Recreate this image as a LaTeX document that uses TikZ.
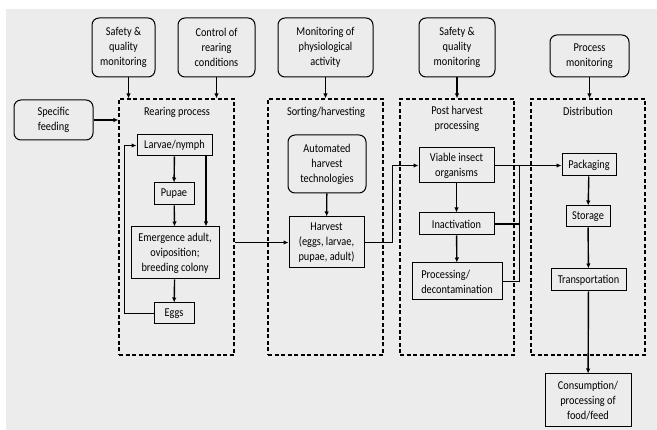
\documentclass[tikz,border=0pt]{standalone}
\usepackage{fontspec}
\setmainfont{Carlito}[FakeStretch=0.86]
\usetikzlibrary{arrows.meta,positioning}
\definecolor{paper}{RGB}{236,236,236}

\begin{document}
\begin{tikzpicture}[x=1pt,y=-1pt,
    font=\fontsize{12}{15}\selectfont,
    rbox/.style={draw,line width=1pt,rounded corners=7pt,align=center,inner sep=0pt},
    pbox/.style={draw,line width=1pt,align=center,inner sep=0pt,fill=paper},
    group/.style={draw,line width=1.2pt,dash pattern=on 4pt off 2.5pt,inner sep=0pt},
    arr/.style={line width=1.4pt,-{Latex[length=5pt,width=4.5pt]}},
    line/.style={line width=1.4pt}]

    \useasboundingbox (0,0) rectangle (657,430);
    \fill[paper] (6,9) rectangle (657,430);

    % monitoring boxes on top
    \node[rbox,minimum width=63,minimum height=59] (safeA) at (123.5,47.5) {Safety \&\\quality\\monitoring};
    \node[rbox,minimum width=77,minimum height=59] (ctrl) at (216.5,47.5) {Control of\\rearing\\conditions};
    \node[rbox,minimum width=95,minimum height=59] (monit) at (325.5,47.5) {Monitoring of\\physiological\\activity};
    \node[rbox,minimum width=76,minimum height=59] (safeB) at (457,47.5) {Safety \&\\quality\\monitoring};
    \node[rbox,minimum width=79,minimum height=42] (procm) at (589.5,56) {Process\\monitoring};
    \node[rbox,minimum width=79,minimum height=40] (feed) at (53.5,120) {Specific\\feeding};

    % dashed stages
    \node[group,minimum width=115,minimum height=256] (rear) at (176.5,227) {};
    \node[group,minimum width=115,minimum height=256] (sort) at (325.5,227) {};
    \node[group,minimum width=114,minimum height=256] (post) at (457,227) {};
    \node[group,minimum width=114,minimum height=256] (dist) at (588,227) {};

    \node (rearT) at (177,112) {Rearing process};
    \node (sortT) at (326,112) {Sorting/harvesting};
    \node[align=center] (postT) at (457,119) {Post harvest\\processing};
    \node (distT) at (588,111) {Distribution};

    % rearing
    \node[pbox,minimum width=75,minimum height=21] (larvae) at (174.5,145.5) {Larvae/nymph};
    \node[pbox,minimum width=40,minimum height=22] (pupae) at (174,194) {Pupae};
    \node[pbox,minimum width=88,minimum height=52] (emerg) at (175,253) {Emergence adult,\\oviposition;\\breeding colony};
    \node[pbox,minimum width=40,minimum height=21] (eggs) at (174,313.5) {Eggs};

    % sorting
    \node[rbox,minimum width=78,minimum height=58] (auto) at (327,164) {Automated\\harvest\\technologies};
    \node[pbox,minimum width=75,minimum height=51] (harv) at (326.5,242.5) {Harvest\\(eggs, larvae,\\pupae, adult)};

    % post harvest
    \node[pbox,minimum width=75,minimum height=35] (viable) at (456.5,165.5) {Viable insect\\organisms};
    \node[pbox,minimum width=75,minimum height=22] (inact) at (456.5,224) {Inactivation};
    \node[pbox,minimum width=90,minimum height=37,align=left] (procd) at (457,281.5) {Processing/\\decontamination};

    % distribution
    \node[pbox,minimum width=54,minimum height=22] (pack) at (589,165) {Packaging};
    \node[pbox,minimum width=44,minimum height=21] (stor) at (588,216.5) {Storage};
    \node[pbox,minimum width=75,minimum height=22] (trans) at (588.5,280) {Transportation};
    \node[pbox,minimum width=86,minimum height=53] (cons) at (588,400.5) {Consumption/\\processing of\\food/feed};

    \coordinate (jn) at ([xshift=25]viable.east);

    % inputs
    \draw[arr] ([xshift=5]safeA.south) -- ([xshift=5]safeA.south |- rear.north);
    \draw[arr] (ctrl.south) -- (ctrl.south |- rear.north);
    \draw[arr] (monit.south) -- (monit.south |- sort.north);
    \draw[arr] (safeB.south) -- (safeB.south |- post.north);
    \draw[arr] (procm.south) -- (procm.south |- dist.north);
    \draw[arr] (feed.east) -- (feed.east -| rear.west);

    % rearing cycle
    \draw[arr] (larvae) -- (pupae);
    \draw[arr] (pupae) -- (emerg);
    \draw[arr] ([xshift=31.5]larvae.south) -- ([xshift=31.5]larvae.south |- emerg.north);
    \draw[arr] (emerg) -- (eggs);
    \draw[arr] (eggs.west) -- ++(-29,0) |- (larvae.west);

    % flow between stages
    \draw[arr] (rear.east |- harv) -- (harv.west);
    \draw[arr] (auto) -- (harv);
    \draw[arr] (harv.east) -- ++(28,0) |- (viable.west);
    \draw[arr] (viable) -- (inact);
    \draw[arr] (inact) -- (procd);
    \draw[line] (procd.east) -| (jn);
    \draw[line] (inact.east) -- (inact.east -| jn);
    \draw[arr] (viable.east) -- (viable.east -| pack.west);
    \draw[arr] (pack) -- (stor);
    \draw[arr] (stor) -- (trans);
    \draw[arr] (trans) -- (cons);

\end{tikzpicture}
\end{document}
